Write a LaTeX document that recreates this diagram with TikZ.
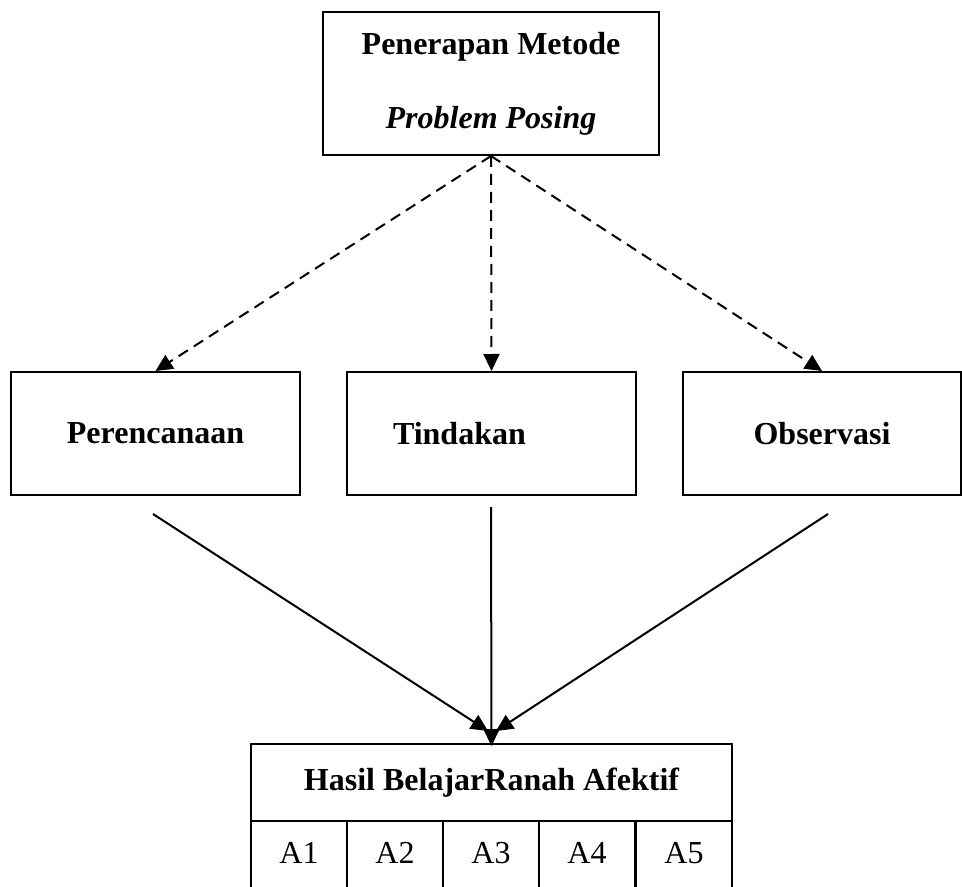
\documentclass[tikz,border=0pt]{standalone}
\usepackage{fontspec}
\setmainfont{Liberation Serif}
\usetikzlibrary{arrows.meta}

\tikzset{
  box/.style={draw, line width=1pt, minimum width=144.5pt, minimum height=61.5pt, font=\bfseries\fontsize{16}{19}\selectfont},
  cell/.style={draw, line width=1pt, minimum width=48pt, minimum height=38.5pt, text depth=7pt, font=\fontsize{16}{19}\selectfont},
  guide/.style={dash pattern=on 5.5pt off 3.5pt}
}

\begin{document}
\begin{tikzpicture}[x=0.5pt, y=-0.5pt, line width=1pt, >={Triangle[length=8.5pt,width=8pt]}]
\useasboundingbox (0,0) rectangle (962,887);
\node[box, minimum width=168pt, minimum height=71.5pt, align=center, font=\bfseries\fontsize{16}{37}\selectfont] (metode) at (491,83.5) {Penerapan Metode\\\textit{Problem Posing}};
\node[box] (plan) at (155.5,433.5) {Perencanaan};
\node[box, text width=98.5pt, inner xsep=23pt, align=left] (tindak) at (491.5,433.5) {Tindakan};
\node[box, minimum width=139pt] (obs) at (822,433.5) {Observasi};
\node[box, minimum width=240.5pt, minimum height=38.5pt] (hasil) at (491.5,782.5) {Hasil BelajarRanah Afektif};
\node[cell] (a1) at (299,859.5) {A1};
\node[cell] (a2) at (395,859.5) {A2};
\node[cell] (a3) at (491,859.5) {A3};
\node[cell] (a4) at (587,859.5) {A4};
\node[cell] (a5) at (684,859.5) {A5};
\coordinate (plan-out) at (153,514);
\coordinate (tindak-out) at (491,507);
\coordinate (obs-out) at (828,514);
\coordinate (in-l) at (488,731);
\coordinate (in-r) at (496,731);
\draw [->, guide] (metode.south) -- (plan.north);
\draw [->, guide] (metode.south) -- (tindak.north);
\draw [->, guide] (metode.south) -- (obs.north);
\draw [->] (plan-out) -- (in-l);
\draw [->] (tindak-out) -- ([yshift=-1.5pt]hasil.north);
\draw [->] (obs-out) -- (in-r);
\end{tikzpicture}
\end{document}
